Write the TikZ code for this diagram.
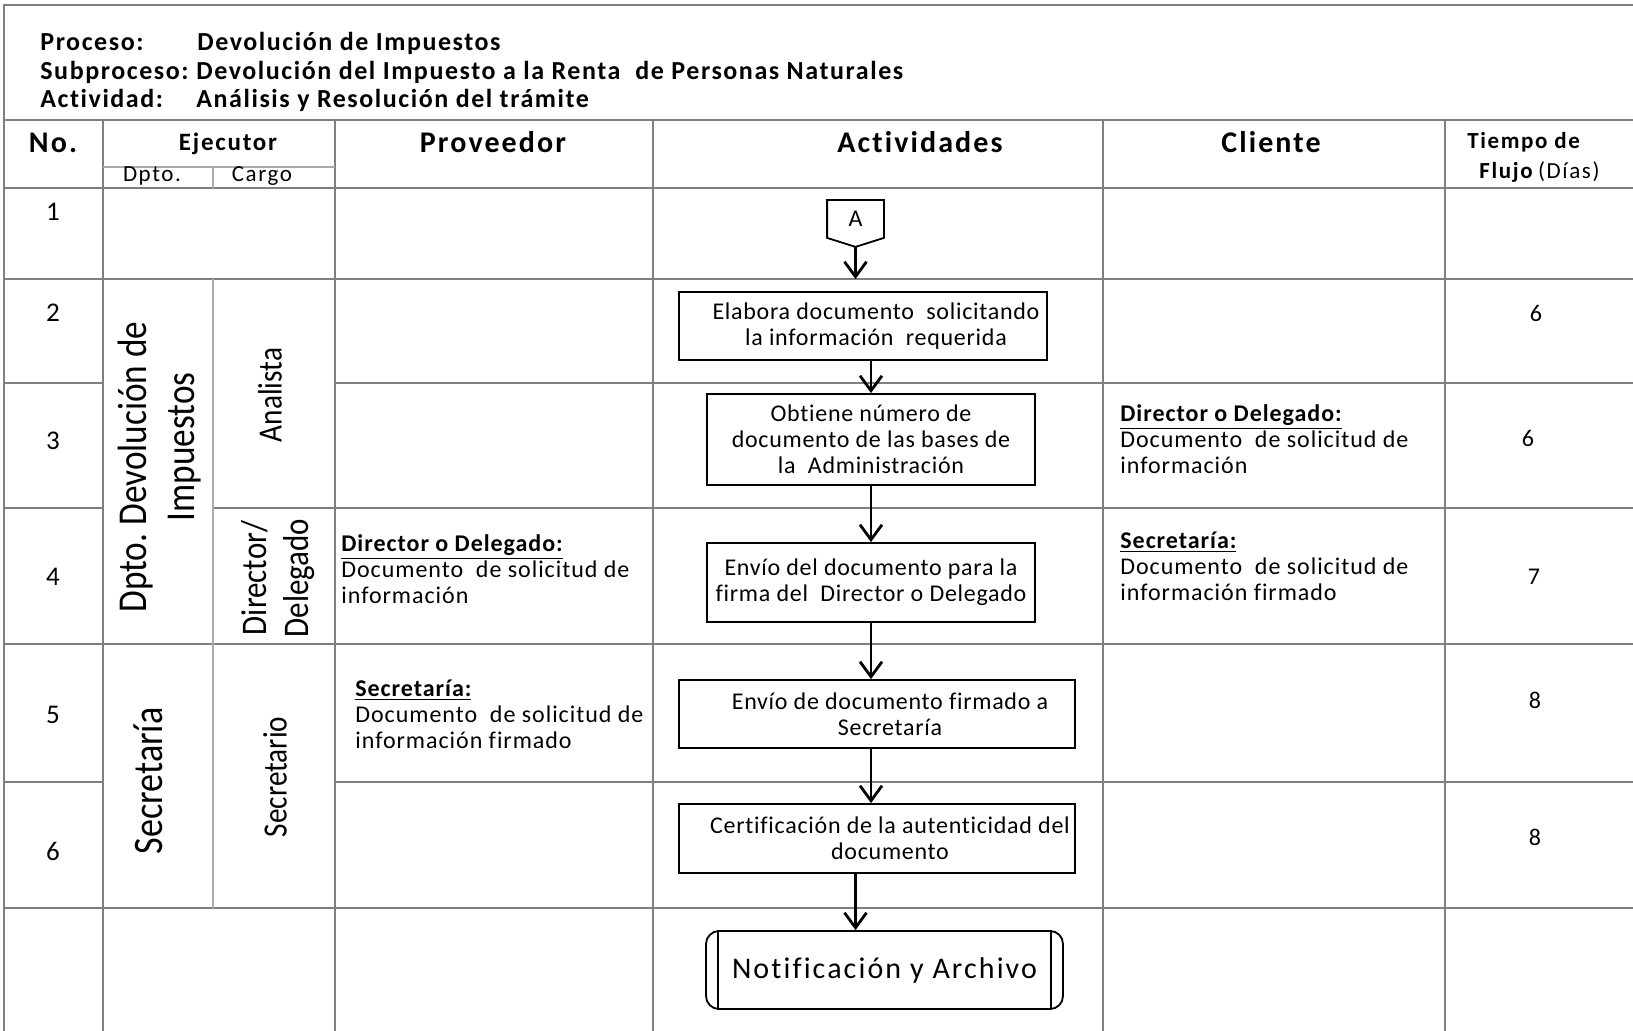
\documentclass[tikz,border=0pt]{standalone}
\usepackage{fontspec}
\setmainfont{Carlito}[Ligatures=NoCommon,Numbers=Lining]
\newfontfamily\ttlf{Carlito}[LetterSpace=6,Ligatures=NoCommon,Numbers=Lining]
\newfontfamily\hdrf{Carlito}[LetterSpace=7,Ligatures=NoCommon,Numbers=Lining]
\newfontfamily\bdyf{Carlito}[LetterSpace=4,Ligatures=NoCommon,Numbers=Lining]
\newfontfamily\boxf{Carlito}[LetterSpace=3,Ligatures=NoCommon,Numbers=Lining]
\newfontfamily\cndf{Carlito}[FakeStretch=0.86,Ligatures=NoCommon]
\usetikzlibrary{arrows.meta,calc}
\definecolor{gridc}{RGB}{128,128,128}
\definecolor{gridl}{RGB}{170,170,170}
\tikzset{
 gline/.style={draw=gridc, line width=1.1pt},
 glight/.style={draw=gridl, line width=1pt},
 ttl/.style={font=\ttlf\bfseries\fontsize{13pt}{15pt}\selectfont, inner sep=0pt, anchor=base west},
 hdr/.style={font=\hdrf\bfseries\fontsize{15pt}{18pt}\selectfont, inner sep=0pt, anchor=base},
 subh/.style={font=\hdrf\fontsize{11.5pt}{13pt}\selectfont, inner sep=0pt, anchor=base},
 rownum/.style={font=\bdyf\fontsize{13.5pt}{15pt}\selectfont, inner sep=0pt, anchor=base},
 tnum/.style={font=\bdyf\fontsize{12pt}{14pt}\selectfont, inner sep=0pt, anchor=base},
 note/.style={font=\bdyf\fontsize{12pt}{13pt}\selectfont, inner sep=0pt, anchor=north west, align=left},
 vlab/.style={inner sep=0pt, rotate=90, align=center},
 abox/.style={draw, line width=0.9pt, inner sep=0pt, align=center, font=\boxf\fontsize{12pt}{13pt}\selectfont},
 flow/.style={line width=1.4pt, -{Straight Barb[length=7.5pt, width=11pt]}},
}
\newcommand{\sh}{\hspace*{13pt}}
\begin{document}
\begin{tikzpicture}[x=0.5pt,y=-0.5pt]
\useasboundingbox (0,0) rectangle (1633,1031);
% ---------- grid ----------
\draw[gline] (4,1040) -- (4,5) -- (1640,5);
\draw[gline] (4,120) -- (1640,120);
\draw[gline] (4,188) -- (1640,188);
\draw[gline] (4,279) -- (1640,279);
\draw[gline] (4,644) -- (1640,644);
\draw[gline] (4,908) -- (1640,908);
\draw[gline] (4,383) -- (103,383) (335,383) -- (1640,383);
\draw[gline] (4,508) -- (103,508) (213,508) -- (1640,508);
\draw[gline] (4,782) -- (103,782) (335,782) -- (1640,782);
\foreach \xx in {103,335,653,1103,1445} \draw[gline] (\xx,120) -- (\xx,1040);
\draw[glight] (103,167) -- (335,167);
\draw[glight] (213,167) -- (213,188) (213,279) -- (213,908);
% ---------- title ----------
\node[ttl] (t1) at (40,51) {Proceso:};
\node[ttl] (t1v) at (197,51) {Devolución de Impuestos};
\node[ttl] (t2) at (40,79.5) {Subproceso:};
\node[ttl] (t2v) at (196,79.5) {Devolución del Impuesto a la Renta\ \ de Personas Naturales};
\node[ttl] (t3) at (40,107.5) {Actividad:};
\node[ttl] (t3v) at (196,107.5) {Análisis y Resolución del trámite};
% ---------- header ----------
\node[hdr] (hNo) at (53,153) {No.};
\node[hdr, font=\hdrf\bfseries\fontsize{12.5pt}{15pt}\selectfont] (hEj) at (228,151) {Ejecutor};
\node[subh] (hDp) at (152,182) {Dpto.};
\node[subh] (hCa) at (262,182) {Cargo};
\node[hdr] (hPr) at (493,153) {Proveedor};
\node[hdr] (hAc) at (920,153) {Actividades};
\node[hdr] (hCl) at (1271,153) {Cliente};
\node[subh, anchor=base west, font=\hdrf\bfseries\fontsize{11.5pt}{13pt}\selectfont] (hTi) at (1467,149) {Tiempo de};
\node[subh, anchor=base west, font=\hdrf\fontsize{11.5pt}{13pt}\selectfont] (hFl) at (1479,179) {\textbf{Flujo}\,(Días)};
% ---------- row numbers ----------
\node[rownum] (n1) at (53,221) {1};
\node[rownum] (n2) at (53,322) {2};
\node[rownum] (n3) at (53,450) {3};
\node[rownum] (n4) at (53,586) {4};
\node[rownum] (n5) at (53,723) {5};
\node[rownum] (n6) at (53,860) {6};
% ---------- executor labels ----------
\node[vlab, font=\cndf\fontsize{20.5pt}{24pt}\selectfont] (dDev) at (160,467) {Dpto.\ Devolución de\\\hspace*{20pt}Impuestos};
\node[vlab, font=\cndf\fontsize{17pt}{21pt}\selectfont] (cAn) at (270,395) {Analista};
\node[vlab, font=\cndf\fontsize{18pt}{21pt}\selectfont] (cDir) at (278,578) {Director/\\Delegado};
\node[vlab, font=\cndf\fontsize{21pt}{25pt}\selectfont] (dSec) at (148,781) {Secretaría};
\node[vlab, font=\cndf\fontsize{17pt}{21pt}\selectfont] (cSec) at (275,777) {Secretario};
% ---------- proveedor / cliente ----------
\node[note] (p4) at (341,533) {\strut\underline{\bfseries Director o Delegado:}\\Documento\ \ de solicitud de\\información};
\node[note] (p5) at (355,678) {\strut\underline{\bfseries Secretaría:}\\Documento\ \ de solicitud de\\información firmado};
\node[note] (c3) at (1120,403) {\strut\underline{\bfseries Director o Delegado:}\\Documento\ \ de solicitud de\\información};
\node[note] (c4) at (1120,530) {\strut\underline{\bfseries Secretaría:}\\Documento\ \ de solicitud de\\información firmado};
% ---------- tiempos ----------
\node[tnum] (d2) at (1536,322) {6};
\node[tnum] (d3) at (1528,447) {6};
\node[tnum] (d4) at (1534,585) {7};
\node[tnum] (d5) at (1535,708) {8};
\node[tnum] (d6) at (1535,845) {8};
% ---------- activities ----------
\node[abox, draw=none, minimum width=27.5pt, minimum height=18pt] (conA) at (855.5,219) {A};
\draw[line width=0.9pt] (conA.north west) -- (conA.north east) -- (conA.south east)
  -- ($(conA.south)+(0,9)$) coordinate (tipA) -- (conA.south west) -- cycle;
\node[abox, minimum width=184pt, minimum height=34pt] (b1) at (863,326)
  {\sh Elabora documento\ \ solicitando\\\sh la información\ \ requerida};
\node[abox, minimum width=164pt, minimum height=45.5pt] (b2) at (871,439.5)
  {Obtiene número de\\documento de las bases de\\la\ \ Administración};
\node[abox, minimum width=164pt, minimum height=39.5pt] (b3) at (871,582.5)
  {Envío del documento para la\\firma del\ \ Director o Delegado};
\node[abox, minimum width=198pt, minimum height=34pt] (b4) at (877,714)
  {\sh Envío de documento firmado a\\\sh Secretaría};
\node[abox, minimum width=198pt, minimum height=34.5pt] (b5) at (877,838.5)
  {\sh Certificación de la autenticidad del\\\sh documento};
\node[abox, rounded corners=6.5pt, minimum width=178.5pt, minimum height=39pt,
  font=\hdrf\fontsize{15pt}{18pt}\selectfont] (term) at (884.5,970)
  {\raisebox{2pt}{Notificación y Archivo}};
\draw[line width=0.9pt] ($(term.north west)+(13,0)$) -- ($(term.south west)+(13,0)$);
\draw[line width=0.9pt] ($(term.north east)+(-13,0)$) -- ($(term.south east)+(-13,0)$);
% ---------- connectors ----------
\draw[flow] (tipA) -- ($(tipA |- b1.north)+(0,-12)$);
\draw[flow] (b2.north |- b1.south) -- (b2.north);
\draw[flow] (b3.north |- b2.south) -- (b3.north);
\draw[flow] (b3.south) -- (b3.south |- b4.north);
\draw[flow] (b3.south |- b4.south) -- (b3.south |- b5.north);
\draw[flow] (tipA |- b5.south) -- (tipA |- term.north);
\end{tikzpicture}
\end{document}
